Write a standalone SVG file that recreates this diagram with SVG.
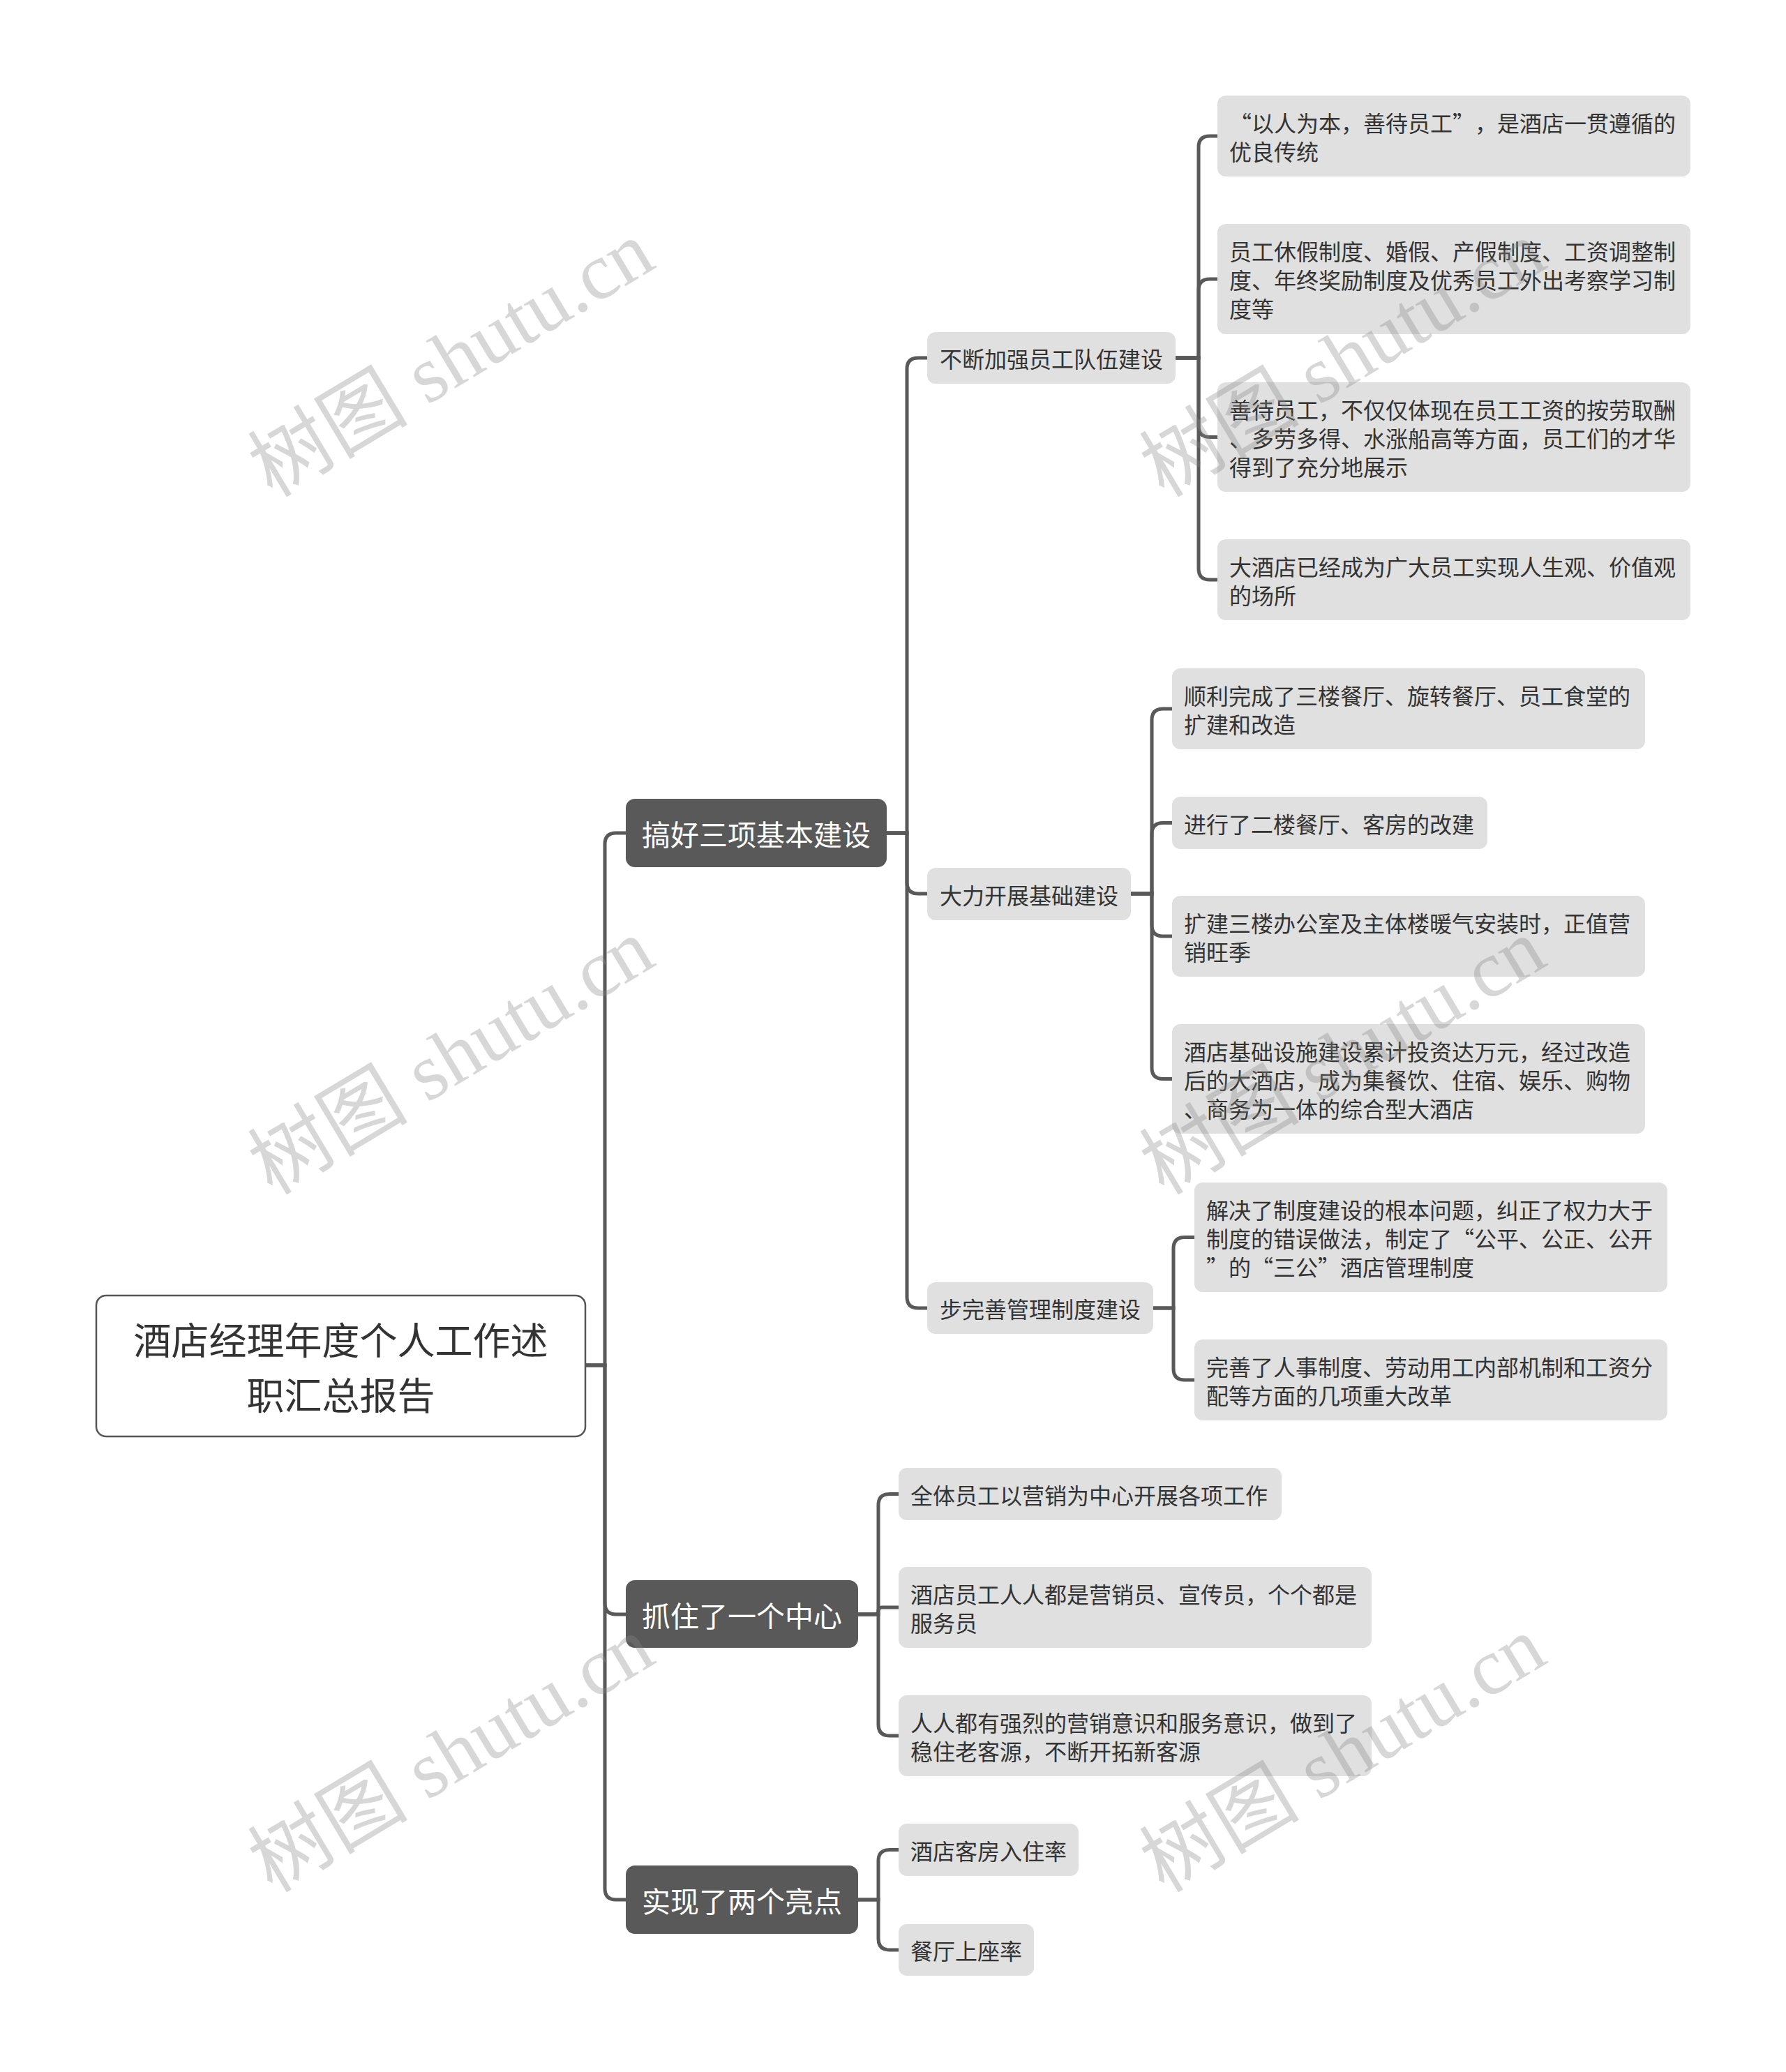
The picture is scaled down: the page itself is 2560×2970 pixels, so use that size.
<svg xmlns="http://www.w3.org/2000/svg" width="2560" height="2970" viewBox="0 0 2560 2970">
<style>
text{font-family:"Noto Sans CJK SC","Noto Sans",sans-serif;dominant-baseline:central}
.root rect{fill:#fff;stroke:#555;stroke-width:2.5}
.root text{fill:#333;font-size:54px;text-anchor:middle}
.l1 rect{fill:#595959}
.l1 text{fill:#fff;font-size:41px;text-anchor:middle}
.l2 rect{fill:#e0e0e0}
.l2 text{fill:#333;font-size:32px}
#connectors path{fill:none;stroke:#595959;stroke-width:5}
.wm{font-family:"Liberation Serif","Noto Sans CJK SC",serif;font-size:115px;fill:#888;opacity:0.33;text-anchor:middle}
</style>
<rect width="2560" height="2970" fill="#fff"/>
<g id="connectors">
<path d="M839 1957 H867 V1210 Q867 1194 883 1194 H897"/>
<path d="M839 1957 H867 V2298 Q867 2314 883 2314 H897"/>
<path d="M839 1957 H867 V2707 Q867 2723 883 2723 H897"/>
<path d="M1271 1194 H1300 V529 Q1300 513 1316 513 H1329"/>
<path d="M1271 1194 H1300 V1265 Q1300 1281 1316 1281 H1329"/>
<path d="M1271 1194 H1300 V1859 Q1300 1875 1316 1875 H1329"/>
<path d="M1685 513 H1718 V211 Q1718 195 1734 195 H1745"/>
<path d="M1685 513 H1718 V416 Q1718 400 1734 400 H1745"/>
<path d="M1685 513 H1718 V610.5 Q1718 626.5 1734 626.5 H1745"/>
<path d="M1685 513 H1718 V815 Q1718 831 1734 831 H1745"/>
<path d="M1621 1281 H1651 V1032 Q1651 1016 1667 1016 H1680"/>
<path d="M1621 1281 H1651 V1195.5 Q1651 1179.5 1667 1179.5 H1680"/>
<path d="M1621 1281 H1651 V1326 Q1651 1342 1667 1342 H1680"/>
<path d="M1621 1281 H1651 V1530.5 Q1651 1546.5 1667 1546.5 H1680"/>
<path d="M1653 1875 H1682 V1789.5 Q1682 1773.5 1698 1773.5 H1712"/>
<path d="M1653 1875 H1682 V1962 Q1682 1978 1698 1978 H1712"/>
<path d="M1230 2314 H1259 V2157.5 Q1259 2141.5 1275 2141.5 H1288"/>
<path d="M1230 2314 H1254 Q1259 2314 1259 2309 Q1259 2304 1264 2304 H1288"/>
<path d="M1230 2314 H1259 V2472 Q1259 2488 1275 2488 H1288"/>
<path d="M1230 2723 H1259 V2667.5 Q1259 2651.5 1275 2651.5 H1288"/>
<path d="M1230 2723 H1259 V2779 Q1259 2795 1275 2795 H1288"/>
</g>
<g id="root" class="root">
<rect x="138" y="1857" width="701" height="202" rx="14"/>
<text x="488.5" y="1918">酒店经理年度个人工作述</text>
<text x="488.5" y="1997">职汇总报告</text>
</g>
<g id="n1" class="l1"><rect x="897" y="1145" width="374" height="98" rx="13"/><text x="1084" y="1194">搞好三项基本建设</text></g>
<g id="n2" class="l1"><rect x="897" y="2265" width="333" height="97" rx="13"/><text x="1063.5" y="2314">抓住了一个中心</text></g>
<g id="n3" class="l1"><rect x="897" y="2674" width="333" height="98" rx="13"/><text x="1063.5" y="2723">实现了两个亮点</text></g>
<g id="n1a" class="l2"><rect x="1329" y="476" width="356" height="74" rx="12"/><text x="1347" y="513">不断加强员工队伍建设</text></g>
<g id="n1b" class="l2"><rect x="1329" y="1244" width="292" height="75" rx="12"/><text x="1347" y="1281.5">大力开展基础建设</text></g>
<g id="n1c" class="l2"><rect x="1329" y="1838" width="324" height="74" rx="12"/><text x="1347" y="1875">步完善管理制度建设</text></g>
<g id="n1a1" class="l2"><rect x="1745" y="137" width="678" height="116" rx="12"/><text y="174.5"><tspan x="1762">“</tspan><tspan x="1794">以人为本，善待员工</tspan><tspan x="2082">”</tspan><tspan x="2114">，是酒店一贯遵循的</tspan></text><text x="1762" y="215.5">优良传统</text></g>
<g id="n1a2" class="l2"><rect x="1745" y="321" width="678" height="158" rx="12"/><text x="1762" y="359">员工休假制度、婚假、产假制度、工资调整制</text><text x="1762" y="400">度、年终奖励制度及优秀员工外出考察学习制</text><text x="1762" y="441">度等</text></g>
<g id="n1a3" class="l2"><rect x="1745" y="548" width="678" height="157" rx="12"/><text x="1762" y="585.5">善待员工，不仅仅体现在员工工资的按劳取酬</text><text x="1762" y="626.5">、多劳多得、水涨船高等方面，员工们的才华</text><text x="1762" y="667.5">得到了充分地展示</text></g>
<g id="n1a4" class="l2"><rect x="1745" y="773" width="678" height="116" rx="12"/><text x="1762" y="810.5">大酒店已经成为广大员工实现人生观、价值观</text><text x="1762" y="851.5">的场所</text></g>
<g id="n1b1" class="l2"><rect x="1680" y="958" width="678" height="116" rx="12"/><text x="1697" y="995.5">顺利完成了三楼餐厅、旋转餐厅、员工食堂的</text><text x="1697" y="1036.5">扩建和改造</text></g>
<g id="n1b2" class="l2"><rect x="1680" y="1142" width="452" height="75" rx="12"/><text x="1697" y="1179.5">进行了二楼餐厅、客房的改建</text></g>
<g id="n1b3" class="l2"><rect x="1680" y="1284" width="678" height="116" rx="12"/><text x="1697" y="1321.5">扩建三楼办公室及主体楼暖气安装时，正值营</text><text x="1697" y="1362.5">销旺季</text></g>
<g id="n1b4" class="l2"><rect x="1680" y="1468" width="678" height="157" rx="12"/><text x="1697" y="1505.5">酒店基础设施建设累计投资达万元，经过改造</text><text x="1697" y="1546.5">后的大酒店，成为集餐饮、住宿、娱乐、购物</text><text x="1697" y="1587.5">、商务为一体的综合型大酒店</text></g>
<g id="n1c1" class="l2"><rect x="1712" y="1695" width="678" height="157" rx="12"/><text x="1729" y="1732.5">解决了制度建设的根本问题，纠正了权力大于</text><text x="1729" y="1773.5">制度的错误做法，制定了“公平、公正、公开</text><text x="1729" y="1814.5">”的“三公”酒店管理制度</text></g>
<g id="n1c2" class="l2"><rect x="1712" y="1920" width="678" height="116" rx="12"/><text x="1729" y="1957.5">完善了人事制度、劳动用工内部机制和工资分</text><text x="1729" y="1998.5">配等方面的几项重大改革</text></g>
<g id="n2a" class="l2"><rect x="1288" y="2104" width="549" height="75" rx="12"/><text x="1305" y="2141.5">全体员工以营销为中心开展各项工作</text></g>
<g id="n2b" class="l2"><rect x="1288" y="2246" width="678" height="116" rx="12"/><text x="1305" y="2283.5">酒店员工人人都是营销员、宣传员，个个都是</text><text x="1305" y="2324.5">服务员</text></g>
<g id="n2c" class="l2"><rect x="1288" y="2430" width="678" height="116" rx="12"/><text x="1305" y="2467.5">人人都有强烈的营销意识和服务意识，做到了</text><text x="1305" y="2508.5">稳住老客源，不断开拓新客源</text></g>
<g id="n3a" class="l2"><rect x="1288" y="2614" width="258" height="75" rx="12"/><text x="1305" y="2651.5">酒店客房入住率</text></g>
<g id="n3b" class="l2"><rect x="1288" y="2758" width="194" height="74" rx="12"/><text x="1305" y="2795">餐厅上座率</text></g>
<g id="watermarks">
<text class="wm" transform="translate(647 515) rotate(-31)">树图 shutu.cn</text>
<text class="wm" transform="translate(647 1515) rotate(-31)">树图 shutu.cn</text>
<text class="wm" transform="translate(647 2515) rotate(-31)">树图 shutu.cn</text>
<text class="wm" transform="translate(1925 515) rotate(-31)">树图 shutu.cn</text>
<text class="wm" transform="translate(1925 1515) rotate(-31)">树图 shutu.cn</text>
<text class="wm" transform="translate(1925 2515) rotate(-31)">树图 shutu.cn</text>
</g>
</svg>
